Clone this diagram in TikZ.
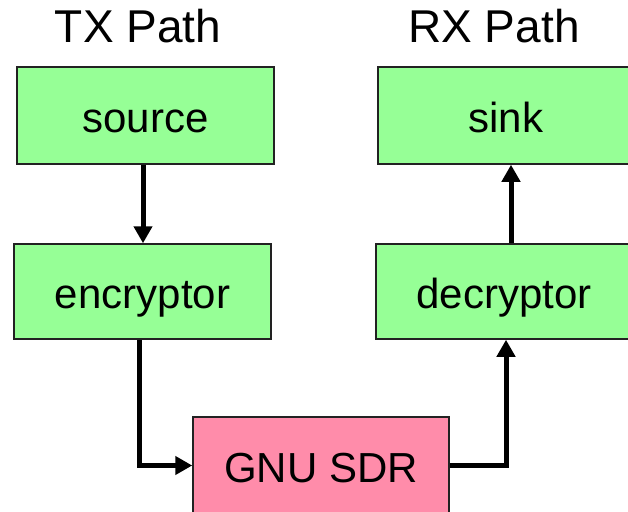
\documentclass[tikz,border=0pt]{standalone}
\usepackage{fontspec}
\setmainfont{Liberation Sans}
\usetikzlibrary{arrows.meta}
\definecolor{boxgreen}{HTML}{96FF96}
\definecolor{boxpink}{HTML}{FF8CAA}
\definecolor{edgegray}{HTML}{222222}
\tikzset{
  block/.style={draw=edgegray, line width=1.5pt, fill=boxgreen, inner sep=0pt,
    text height=33pt, text depth=0pt, font=\fontsize{42}{46}\selectfont},
  title/.style={anchor=base, inner sep=0pt, font=\fontsize{46}{50}\selectfont},
  flow/.style={line width=5pt, -{Triangle[length=17pt,width=18pt]}}
}
\begin{document}
\begin{tikzpicture}[x=1pt,y=-1pt]
\useasboundingbox (0,0) rectangle (628,511);
\node[title] (tx) at (138,43) {TX Path};
\node[title] (rx) at (494,43) {RX Path};
\node[block, minimum width=257pt, minimum height=97pt] (src) at (145.5,115.5) {source};
\node[block, minimum width=257pt, minimum height=95pt] (enc) at (142.5,291.5) {encryptor};
\node[block, minimum width=266pt, minimum height=97pt] (sink) at (511,115.5) {\hspace*{-10pt}sink};
\node[block, minimum width=260pt, minimum height=95pt] (dec) at (506,291.5) {\hspace*{-4pt}decryptor};
\node[block, fill=boxpink, minimum width=256pt, minimum height=97pt] (sdr) at (321,465.5) {GNU SDR};
\coordinate (c1) at (143,0);
\coordinate (c2) at (139,0);
\coordinate (c3) at (506,0);
\coordinate (c4) at (511,0);
\draw[flow] (src.south -| c1) -- (enc.north -| c1);
\draw[flow] (enc.south -| c2) |- (sdr.west);
\draw[flow] (sdr.east) -| (dec.south -| c3);
\draw[flow] (dec.north -| c4) -- (sink.south -| c4);
\end{tikzpicture}
\end{document}
